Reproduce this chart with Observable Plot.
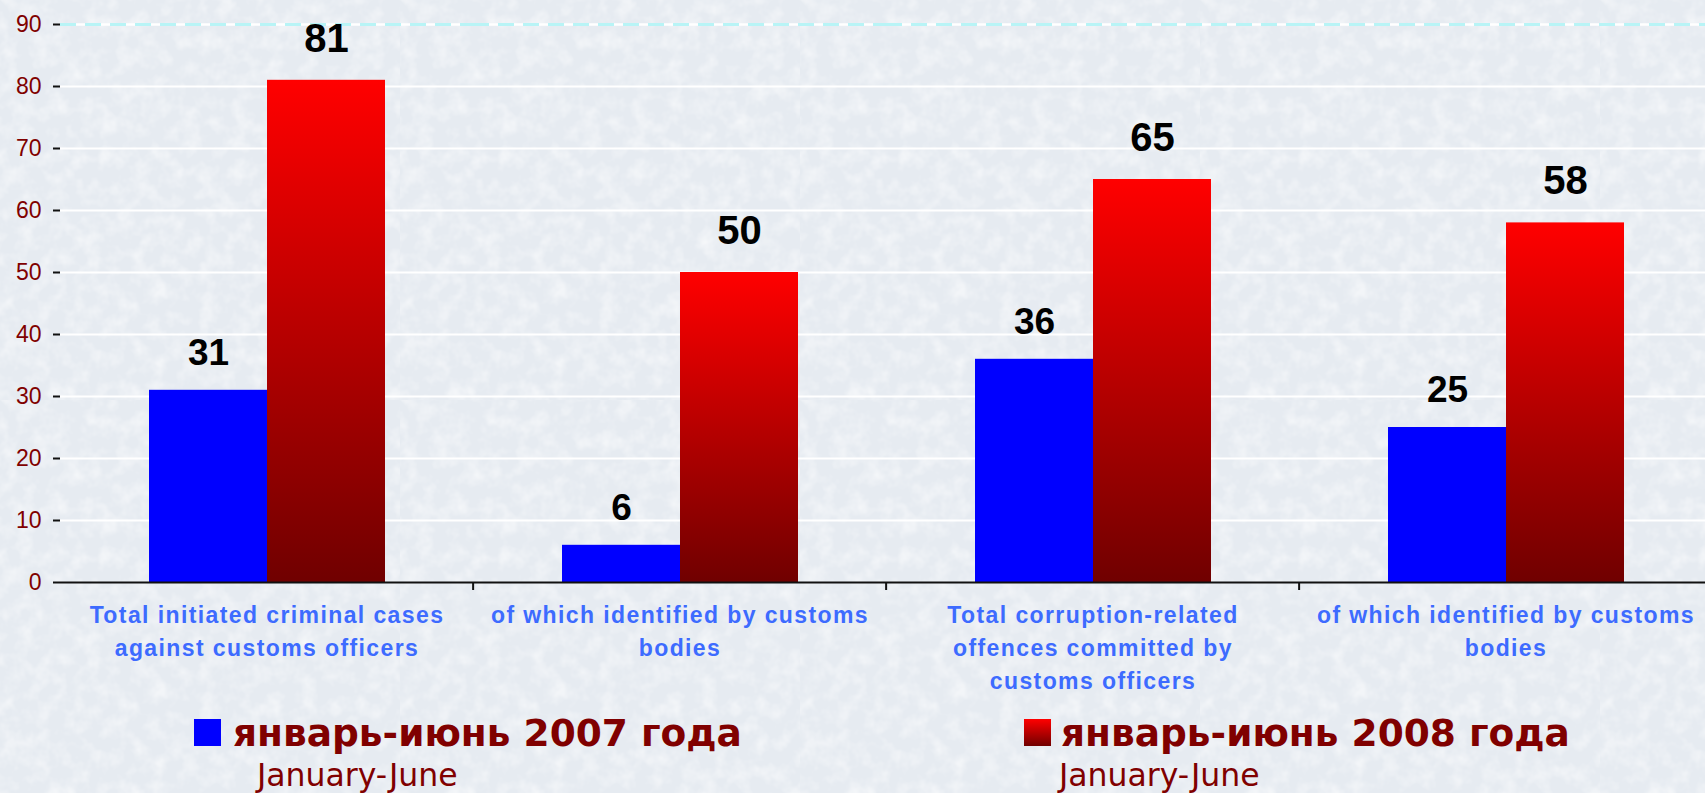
<!DOCTYPE html>
<html>
<head>
<meta charset="utf-8">
<script src="https://cdn.jsdelivr.net/npm/d3@7"></script>
<script src="https://cdn.jsdelivr.net/npm/@observablehq/plot@0.6"></script>
<style>
  html, body { margin: 0; padding: 0; background: #e9eef4; }
  #wrap { position: relative; width: 1705px; height: 793px; overflow: hidden; font-family: Arial, "Liberation Sans", sans-serif;
    background-color: #e6ebf1;
    background-image: url("data:image/svg+xml;utf8,<svg xmlns='http://www.w3.org/2000/svg' width='400' height='400'><filter id='n'><feTurbulence type='fractalNoise' baseFrequency='0.06' numOctaves='3' seed='7'/><feColorMatrix values='0 0 0 0 1  0 0 0 0 1  0 0 0 0 1  0 0 0 1.1 -0.45'/></filter><rect width='400' height='400' filter='url(%23n)'/></svg>");
  }
  #chart svg { display: block; background: transparent; font-family: Arial, "Liberation Sans", sans-serif; }
  g[aria-label="y-axis tick label"] { fill: #800000; }
  .leg { position: absolute; white-space: nowrap; color: #800000; font-family: "DejaVu Sans", Verdana, sans-serif; }
  .leg-main { font-weight: bold; font-size: 37.5px; line-height: 37.5px; }
  .leg-sub { font-size: 31.5px; line-height: 32px; }
  .sw { position: absolute; width: 27px; height: 27px; }
</style>
</head>
<body>
<div id="wrap">
  <div id="chart"></div>
  <div class="sw" style="left:194px; top:719px; background:#0000ff;"></div>
  <div class="leg leg-main" id="leg1" style="left:233px; top:715px;"></div>
  <div class="leg leg-sub" id="sub1" style="left:257px; top:759px;"></div>
  <div class="sw" style="left:1024px; top:719px; background:linear-gradient(#ff0000,#700000);"></div>
  <div class="leg leg-main" id="leg2" style="left:1061px; top:715px;"></div>
  <div class="leg leg-sub" id="sub2" style="left:1059px; top:759px;"></div>
</div>
<script>
const categories = ["c1", "c2", "c3", "c4"];
const categoryLabels = [
  "Total initiated criminal cases\nagainst customs officers",
  "of which identified by customs\nbodies",
  "Total corruption-related\noffences committed by\ncustoms officers",
  "of which identified by customs\nbodies"
];
const seriesKeys = ["2007", "2008"];
const values2007 = [31, 6, 36, 25];
const values2008 = [81, 50, 65, 58];
const yTicks = [0, 10, 20, 30, 40, 50, 60, 70, 80, 90];
const legendMain = ["январь-июнь 2007 года", "январь-июнь 2008 года"];
const legendSub = ["January-June", "January-June"];

document.getElementById("leg1").textContent = legendMain[0];
document.getElementById("leg2").textContent = legendMain[1];
document.getElementById("sub1").textContent = legendSub[0];
document.getElementById("sub2").textContent = legendSub[1];

const rows = categories.flatMap((c, i) => [
  {cat: c, series: seriesKeys[0], value: values2007[i]},
  {cat: c, series: seriesKeys[1], value: values2008[i]}
]);
const rows2007 = rows.filter(d => d.series === seriesKeys[0]);
const rows2008 = rows.filter(d => d.series === seriesKeys[1]);

const fxStart = 58, fxEnd = 1713;
const halfStep = (fxEnd - fxStart) / categories.length / 2;
const labelColor = "#3d6bff";

const chart = Plot.plot({
  width: 1705,
  height: 700,
  marginLeft: 58,
  marginRight: 0,
  marginTop: 24,
  marginBottom: 118,
  style: {background: "transparent", overflow: "visible"},
  fx: {domain: categories, padding: 0, axis: null, range: [fxStart, fxEnd]},
  x: {domain: seriesKeys, paddingInner: 0, paddingOuter: 0.747, axis: null},
  y: {domain: [0, 90], axis: null},
  marks: [
    Plot.gridY(yTicks.slice(1, -1), {stroke: "white", strokeOpacity: 1, strokeWidth: 2}),
    Plot.ruleY([yTicks[yTicks.length - 1]], {stroke: "white", strokeWidth: 2.5}),
    Plot.ruleY([yTicks[yTicks.length - 1]], {stroke: "#b8f4f6", strokeWidth: 3, strokeDasharray: "16,9"}),
    Plot.barY(rows2007, {fx: "cat", x: "series", y: "value", fill: "#0000ff"}),
    Plot.barY(rows2008, {fx: "cat", x: "series", y: "value", fill: "url(#redgrad)"}),
    Plot.text(rows2007, {fx: "cat", x: "series", y: "value", text: d => String(d.value), lineAnchor: "bottom", dy: -25.5,
      fontSize: 37, fontWeight: "bold", fill: "black"}),
    Plot.text(rows2008, {fx: "cat", x: "series", y: "value", text: d => String(d.value), lineAnchor: "bottom", dy: -28.5,
      fontSize: 40, fontWeight: "bold", fill: "black"}),
    Plot.ruleY([0], {stroke: "#111", strokeWidth: 2}),
    Plot.axisY({ticks: yTicks, anchor: "left", line: true, tickSize: 7, tickPadding: 12, fontSize: 23, label: null, stroke: "#111", strokeWidth: 2}),
    Plot.axisFx({ticks: categories.slice(1), anchor: "bottom", tickSize: 8, tickFormat: () => "", label: null, dx: -halfStep, strokeWidth: 2, stroke: "#111"}),
    Plot.text(categories, {fx: d => d, text: (d, i) => categoryLabels[i], frameAnchor: "bottom", dy: 17, lineAnchor: "top",
      fontSize: 23, fontWeight: "bold", fill: labelColor, lineHeight: 1.43})
  ]
});

const defs = d3.create("svg:defs");
const grad = defs.append("linearGradient").attr("id", "redgrad").attr("x1", 0).attr("y1", 0).attr("x2", 0).attr("y2", 1);
grad.append("stop").attr("offset", "0%").attr("stop-color", "#ff0000");
grad.append("stop").attr("offset", "100%").attr("stop-color", "#700000");
chart.insertBefore(defs.node(), chart.firstChild);

d3.select(chart).selectAll("g")
  .filter(function() { return (this.getAttribute("fill") || "").toLowerCase() === labelColor; })
  .selectAll("text, tspan")
  .attr("letter-spacing", "1.4")
  .style("letter-spacing", "1.4px");

document.getElementById("chart").appendChild(chart);
</script>
</body>
</html>
